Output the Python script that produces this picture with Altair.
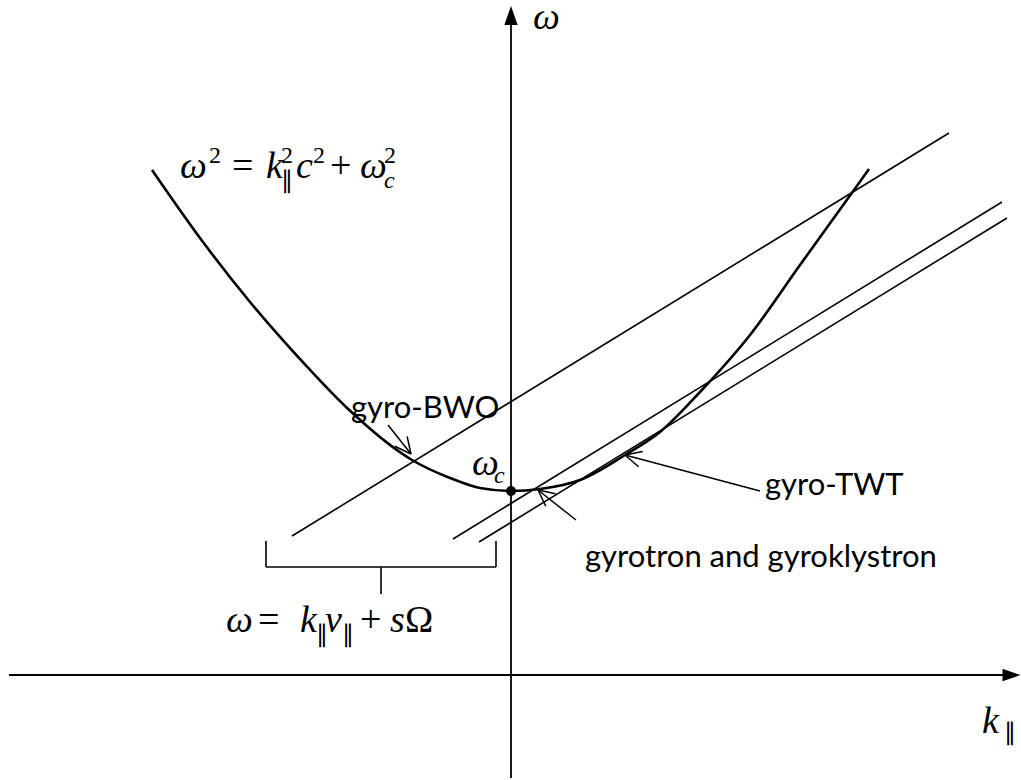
import altair as alt
import numpy as np
import pandas as pd

# Diagram units: k along the horizontal axis, w (omega) along the vertical axis.
K_DOMAIN = [-5.11, 5.10]
W_DOMAIN = [-1.05, 6.75]

# Waveguide dispersion curve w^2 = k^2 c^2 + wc^2 (sampled points)
curve_k = [-3.59, -3.11, -2.61, -2.12, -1.65, -0.99, -0.61, -0.31, 0.0,
           0.29, 0.69, 1.14, 1.49, 1.89, 2.39, 2.89, 3.43, 3.58]
curve_w = [5.05, 4.37, 3.73, 3.17, 2.68, 2.15, 1.97, 1.87, 1.84,
           1.86, 1.95, 2.20, 2.43, 2.83, 3.40, 4.10, 4.85, 5.06]

# Beam-wave resonance lines w = k v + sOmega (start and end points)
beam_k1 = [-2.19, -0.58, -0.32]
beam_w1 = [1.39, 1.36, 1.33]
beam_k2 = [4.38, 4.91, 4.96]
beam_w2 = [5.42, 4.73, 4.57]

# Cutoff point
cutoff_k = [0.0]
cutoff_w = [1.84]

# Coordinate axes (line part, arrowhead centres)
axis_k1 = [-5.02, 0.0]
axis_w1 = [0.0, -1.03]
axis_k2 = [4.93, 0.0]
axis_w2 = [0.0, 6.55]
head_k = [5.005, 0.0]
head_w = [0.0, 6.595]
head_dir = ["right", "up"]

# Bracket grouping the resonance lines
bracket_k1 = [-2.45, -2.45, -0.15, -1.30]
bracket_w1 = [1.34, 1.08, 1.34, 1.08]
bracket_k2 = [-2.45, -0.15, -0.15, -1.30]
bracket_w2 = [1.08, 1.08, 1.08, 0.81]

# Annotation arrows: start -> tip
arrow_name = ["gyro-BWO", "gyro-TWT", "gyrotron and gyroklystron"]
arrow_k1 = [-1.23, 2.49, 0.65]
arrow_w1 = [2.50, 1.84, 1.55]
arrow_k2 = [-1.00, 1.14, 0.27]
arrow_w2 = [2.21, 2.20, 1.85]

# Device labels (left edge, baseline)
label_text = ["gyro-BWO", "gyro-TWT", "gyrotron and gyroklystron"]
label_k = [-1.60, 2.54, 0.74]
label_w = [2.57, 1.80, 1.08]

# Math pieces: text, left edge, baseline, role
math_text = ["ω", "2", "=", "k", "∥", "2", "c", "2", "+", "ω", "c", "2",
             "ω", "=", "k", "∥", "v", "∥", "+", "s", "Ω",
             "ω", "c",
             "ω",
             "k", "∥"]
math_k = [-3.31, -3.02, -2.79, -2.45, -2.30, -2.30, -2.15, -1.98, -1.81, -1.51, -1.27, -1.27,
          -2.85, -2.53, -2.11, -1.95, -1.86, -1.69, -1.51, -1.21, -1.06,
          -0.39, -0.17,
          0.22,
          4.71, 4.93]
math_w = [4.97, 5.12, 4.97, 4.97, 4.87, 5.12, 4.97, 5.12, 4.97, 4.97, 4.87, 5.12,
          0.43, 0.43, 0.43, 0.33, 0.43, 0.33, 0.43, 0.43, 0.43,
          2.00, 1.92,
          6.46,
          -0.58, -0.65]
math_role = ["it", "small", "up", "it", "small", "small", "it", "small", "up", "it", "small_it", "small",
             "it", "up", "it", "small", "it", "small", "up", "it", "up",
             "it", "small_it",
             "it",
             "it", "small"]

xs = alt.Scale(domain=K_DOMAIN, nice=False, zero=False)
ys = alt.Scale(domain=W_DOMAIN, nice=False, zero=False)
X = lambda f: alt.X(f, type="quantitative", scale=xs, axis=None)
Y = lambda f: alt.Y(f, type="quantitative", scale=ys, axis=None)

# ---- axes
axes_df = pd.DataFrame({"k": axis_k1, "w": axis_w1, "k2": axis_k2, "w2": axis_w2})
axes = alt.Chart(axes_df).mark_rule(color="black", strokeWidth=1.8).encode(
    x=X("k"), y=Y("w"), x2="k2", y2="w2")

heads_df = pd.DataFrame({"k": head_k, "w": head_w, "dir": head_dir})
head_right = alt.Chart(heads_df[heads_df.dir == "right"]).mark_point(
    shape="M1,0L-1,-0.7L-1,0.7Z", filled=True, color="black", opacity=1, size=324
).encode(x=X("k"), y=Y("w"))
head_up = alt.Chart(heads_df[heads_df.dir == "up"]).mark_point(
    shape="M0,-1L-0.7,1L0.7,1Z", filled=True, color="black", opacity=1, size=361
).encode(x=X("k"), y=Y("w"))

# ---- resonance lines
beam_df = pd.DataFrame({"k": beam_k1, "w": beam_w1, "k2": beam_k2, "w2": beam_w2})
beams = alt.Chart(beam_df).mark_rule(color="black", strokeWidth=1.6).encode(
    x=X("k"), y=Y("w"), x2="k2", y2="w2")

# ---- dispersion curve
curve_df = pd.DataFrame({"k": curve_k, "w": curve_w, "i": range(len(curve_k))})
curve = alt.Chart(curve_df).mark_line(color="black", strokeWidth=2.6, interpolate="monotone").encode(
    x=X("k"), y=Y("w"), order="i:Q")

dot = alt.Chart(pd.DataFrame({"k": cutoff_k, "w": cutoff_w})).mark_circle(
    color="black", opacity=1, size=100).encode(x=X("k"), y=Y("w"))

# ---- bracket
bracket_df = pd.DataFrame({"k": bracket_k1, "w": bracket_w1, "k2": bracket_k2, "w2": bracket_w2})
bracket = alt.Chart(bracket_df).mark_rule(color="black", strokeWidth=1.6).encode(
    x=X("k"), y=Y("w"), x2="k2", y2="w2")

# ---- annotation arrows with open heads
arr = pd.DataFrame({"name": arrow_name, "k": arrow_k1, "w": arrow_w1, "k2": arrow_k2, "w2": arrow_w2})
dk = arr.k2 - arr.k
dw = arr.w2 - arr.w
norm = np.hypot(dk, dw)
ux, uy = dk / norm, dw / norm
barb_len, barb_ang = 0.18, np.radians(26)
barbs = []
for sgn in (1, -1):
    c, s = np.cos(sgn * barb_ang), np.sin(sgn * barb_ang)
    bx = ux * c - uy * s
    by = ux * s + uy * c
    barbs.append(pd.DataFrame({"k": arr.k2, "w": arr.w2,
                               "k2": arr.k2 - barb_len * bx, "w2": arr.w2 - barb_len * by}))
shafts = alt.Chart(arr).mark_rule(color="black", strokeWidth=1.5).encode(
    x=X("k"), y=Y("w"), x2="k2", y2="w2")
barb_layer = alt.Chart(pd.concat(barbs, ignore_index=True)).mark_rule(
    color="black", strokeWidth=1.5).encode(x=X("k"), y=Y("w"), x2="k2", y2="w2")

# ---- device labels
labels_df = pd.DataFrame({"t": label_text, "k": label_k, "w": label_w})
labels = alt.Chart(labels_df).mark_text(
    font="Lato", fontSize=31, align="left", baseline="alphabetic", color="black"
).encode(x=X("k"), y=Y("w"), text="t:N")

# ---- math text
math_df = pd.DataFrame({"t": math_text, "k": math_k, "w": math_w, "role": math_role})
MATH_FONT = "Liberation Serif"


def math_layer(role, size, style):
    return alt.Chart(math_df[math_df.role == role]).mark_text(
        font=MATH_FONT, fontSize=size, fontStyle=style, align="left",
        baseline="alphabetic", color="black"
    ).encode(x=X("k"), y=Y("w"), text="t:N")


math_layers = [
    math_layer("it", 38, "italic"),
    math_layer("up", 38, "normal"),
    math_layer("small", 24, "normal"),
    math_layer("small_it", 24, "italic"),
]

chart = alt.layer(
    axes, head_right, head_up, beams, curve, dot, bracket, shafts, barb_layer,
    labels, *math_layers
).properties(
    width=1021, height=780, padding=0,
    autosize=alt.AutoSizeParams(type="none"),
    background="white"
).configure_view(stroke=None)

chart.save("out.html", embed_options={"renderer": "svg", "actions": False})
